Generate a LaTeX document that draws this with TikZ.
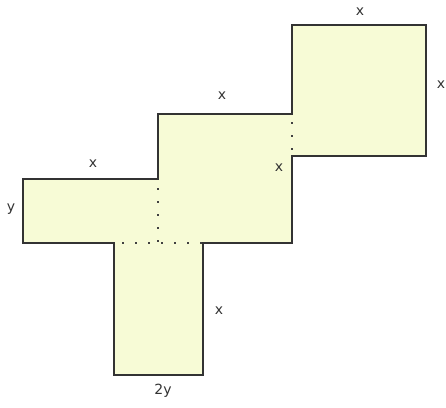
\documentclass[tikz,border=0pt]{standalone}
\usepackage{fontspec}
\setmainfont{DejaVu Sans}
\begin{document}
\begin{tikzpicture}[x=1pt,y=-1pt,
  outline/.style={draw=black!80,line width=1.3pt,fill=yellowfill,line join=miter},
  fold/.style={draw=black!75,line width=1.8pt,dash pattern=on 1.8pt off 11.2pt},
  lbl/.style={font=\fontsize{14}{16}\selectfont,text=black!80,inner sep=0pt}]
\definecolor{yellowfill}{HTML}{F7FBD6}
\useasboundingbox (0,0) rectangle (446,407);
\coordinate (a) at (23,179);
\coordinate (b) at (158,179);
\coordinate (c) at (158,114);
\coordinate (d) at (292,114);
\coordinate (e) at (292,25);
\coordinate (f) at (426,25);
\coordinate (g) at (426,156);
\coordinate (h) at (292,156);
\coordinate (i) at (292,243);
\coordinate (j) at (203,243);
\coordinate (k) at (203,375);
\coordinate (l) at (114,375);
\coordinate (m) at (114,243);
\coordinate (n) at (23,243);
\coordinate (bm) at (158,243);
\path[outline] (a) -- (b) -- (c) -- (d) -- (e) -- (f) -- (g) -- (h) -- (i) -- (j) -- (k) -- (l) -- (m) -- (n) -- cycle;
\draw[fold] (b) ++(0,9) -- (bm);
\draw[fold] (m) ++(8,0) -- (j);
\draw[fold] (d) ++(0,8) -- (h);
\node[lbl] (t1) at (360,12) {x};
\node[lbl] (t2) at (441,85) {x};
\node[lbl] (t3) at (222,96) {x};
\node[lbl] (t4) at (93,164) {x};
\node[lbl] (t5) at (279,168) {x};
\node[lbl] (t6) at (11,209) {y};
\node[lbl] (t7) at (219,311) {x};
\node[lbl] (t8) at (163,391) {2y};
\end{tikzpicture}
\end{document}
